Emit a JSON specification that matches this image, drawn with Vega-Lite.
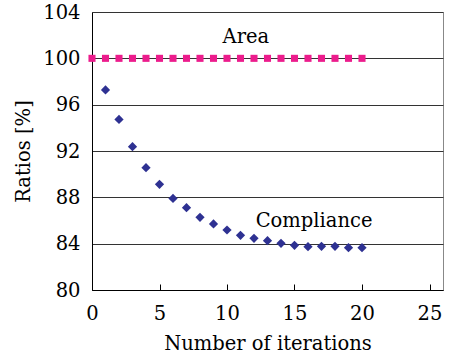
{
  "$schema": "https://vega.github.io/schema/vega-lite/v6.json",
  "autosize": "none",
  "width": 351,
  "height": 278,
  "padding": {"left": 92, "top": 12, "right": 10, "bottom": 70},
  "background": "white",
  "config": {
    "font": "DejaVu Serif",
    "view": {"stroke": "#888888", "strokeWidth": 1},
    "axis": {"labelFont": "DejaVu Serif", "titleFont": "DejaVu Serif", "labelFontSize": 19.5, "titleFontSize": 19.5, "titleFontWeight": "normal", "labelColor": "#000", "titleColor": "#000", "domainColor": "#000", "tickColor": "#000"}
  },
  "datasets": {
    "compliance": [
      {"iter": 1, "ratio": 97.27}, {"iter": 2, "ratio": 94.73}, {"iter": 3, "ratio": 92.37},
      {"iter": 4, "ratio": 90.56}, {"iter": 5, "ratio": 89.12}, {"iter": 6, "ratio": 87.91},
      {"iter": 7, "ratio": 87.11}, {"iter": 8, "ratio": 86.27}, {"iter": 9, "ratio": 85.7},
      {"iter": 10, "ratio": 85.18}, {"iter": 11, "ratio": 84.72}, {"iter": 12, "ratio": 84.46},
      {"iter": 13, "ratio": 84.26}, {"iter": 14, "ratio": 84.03}, {"iter": 15, "ratio": 83.86},
      {"iter": 16, "ratio": 83.74}, {"iter": 17, "ratio": 83.77}, {"iter": 18, "ratio": 83.77},
      {"iter": 19, "ratio": 83.65}, {"iter": 20, "ratio": 83.65}
    ],
    "area": [
      {"iter": 0, "ratio": 100}, {"iter": 1, "ratio": 100}, {"iter": 2, "ratio": 100}, {"iter": 3, "ratio": 100},
      {"iter": 4, "ratio": 100}, {"iter": 5, "ratio": 100}, {"iter": 6, "ratio": 100}, {"iter": 7, "ratio": 100},
      {"iter": 8, "ratio": 100}, {"iter": 9, "ratio": 100}, {"iter": 10, "ratio": 100}, {"iter": 11, "ratio": 100},
      {"iter": 12, "ratio": 100}, {"iter": 13, "ratio": 100}, {"iter": 14, "ratio": 100}, {"iter": 15, "ratio": 100},
      {"iter": 16, "ratio": 100}, {"iter": 17, "ratio": 100}, {"iter": 18, "ratio": 100}, {"iter": 19, "ratio": 100},
      {"iter": 20, "ratio": 100}
    ],
    "labels": [
      {"iter": 11.4, "ratio": 101.8, "text": "Area"},
      {"iter": 16.45, "ratio": 86.0, "text": "Compliance"}
    ]
  },
  "layer": [
    {
      "data": {"name": "compliance"},
      "mark": {"type": "point", "shape": "diamond", "filled": true, "size": 85, "color": "#2E3192", "opacity": 1},
      "encoding": {
        "x": {"field": "iter", "type": "quantitative", "scale": {"domain": [0, 25]},
          "axis": {"title": "Number of iterations", "values": [0, 5, 10, 15, 20, 25], "grid": false, "tickSize": -6, "labelPadding": 20, "titlePadding": 12, "labelFlush": false}},
        "y": {"field": "ratio", "type": "quantitative", "scale": {"domain": [80, 104]},
          "axis": {"title": "Ratios [%]", "values": [80, 84, 88, 92, 96, 100, 104], "grid": true, "gridColor": "#333", "ticks": false, "labelPadding": 12, "titlePadding": 9}}
      }
    },
    {
      "data": {"name": "area"},
      "mark": {"type": "square", "size": 50, "color": "#EC1C8C", "opacity": 1},
      "encoding": {
        "x": {"field": "iter", "type": "quantitative"},
        "y": {"field": "ratio", "type": "quantitative"}
      }
    },
    {
      "data": {"name": "labels"},
      "mark": {"type": "text", "fontSize": 19.5, "font": "DejaVu Serif", "color": "#000"},
      "encoding": {
        "x": {"field": "iter", "type": "quantitative"},
        "y": {"field": "ratio", "type": "quantitative"},
        "text": {"field": "text"}
      }
    }
  ]
}
